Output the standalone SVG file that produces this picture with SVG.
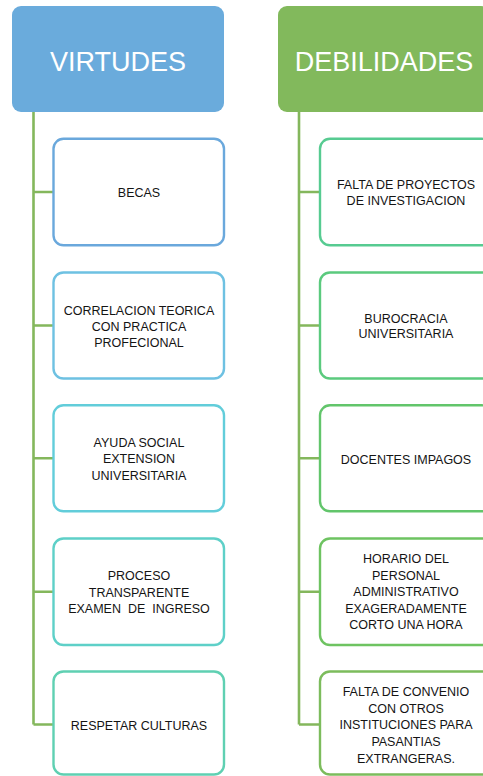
<svg xmlns="http://www.w3.org/2000/svg" width="483" height="776" viewBox="0 0 483 776">
<style>
.hdr{font-family:"Liberation Sans",Arial,sans-serif;font-size:27px;fill:#ffffff;text-anchor:middle}
.t{font-family:"Liberation Sans",Arial,sans-serif;font-size:12.5px;fill:#141414;text-anchor:middle;white-space:pre}
.box{fill:#ffffff;stroke-width:2.4}
.con{stroke:#84b75c;stroke-width:2.6;fill:none}
</style>
<rect width="483" height="776" fill="#ffffff"/>
<g id="connectors">
<path class="con" d="M33.5,112 V724.5 M33.5,192 H53.5 M33.5,325.5 H53.5 M33.5,458.3 H53.5 M33.5,591.7 H53.5 M33.5,724.5 H53.5"/>
<path class="con" d="M299,112 V724.5 M299,192 H320 M299,325.5 H320 M299,458.3 H320 M299,591.7 H320 M299,724.5 H320"/>
</g>
<g id="virtudes">
<rect x="12" y="6" width="212" height="106" rx="9" fill="#6aabdc"/>
<text class="hdr" x="118" y="71">VIRTUDES</text>
</g>
<g id="debilidades">
<rect x="278" y="6" width="212" height="106" rx="9" fill="#82b95c"/>
<text class="hdr" x="384" y="71">DEBILIDADES</text>
</g>
<g id="becas">
<rect class="box" x="53.5" y="138.8" width="170.5" height="106.5" rx="10" stroke="#6aa8dc"/>
<text class="t" x="139" y="197">BECAS</text>
</g>
<g id="correlacion">
<rect class="box" x="53.5" y="272.5" width="170.5" height="106" rx="10" stroke="#6ec1e2"/>
<text class="t" x="139" y="314.5">CORRELACION TEORICA</text>
<text class="t" x="139" y="330.5">CON PRACTICA</text>
<text class="t" x="139" y="346.5">PROFECIONAL</text>
</g>
<g id="ayuda">
<rect class="box" x="53.5" y="405.3" width="170.5" height="106" rx="10" stroke="#62cdda"/>
<text class="t" x="139" y="446.5">AYUDA SOCIAL</text>
<text class="t" x="139" y="463">EXTENSION</text>
<text class="t" x="139" y="479.5">UNIVERSITARIA</text>
</g>
<g id="proceso">
<rect class="box" x="53.5" y="538.5" width="170.5" height="106.5" rx="10" stroke="#5ed0c8"/>
<text class="t" x="139" y="580">PROCESO</text>
<text class="t" x="139" y="596.5">TRANSPARENTE</text>
<text class="t" x="139" y="613" xml:space="preserve">EXAMEN  DE  INGRESO</text>
</g>
<g id="respetar">
<rect class="box" x="53.5" y="671.5" width="170.5" height="103" rx="10" stroke="#5fd0b2"/>
<text class="t" x="139" y="730">RESPETAR CULTURAS</text>
</g>
<g id="falta-proyectos">
<rect class="box" x="320" y="138.8" width="172" height="106.5" rx="10" stroke="#57cb91"/>
<text class="t" x="406" y="189.3">FALTA DE PROYECTOS</text>
<text class="t" x="406" y="205">DE INVESTIGACION</text>
</g>
<g id="burocracia">
<rect class="box" x="320" y="272.5" width="172" height="106" rx="10" stroke="#5bca7e"/>
<text class="t" x="406" y="322.7">BUROCRACIA</text>
<text class="t" x="406" y="338.3">UNIVERSITARIA</text>
</g>
<g id="docentes">
<rect class="box" x="320" y="405.3" width="172" height="106" rx="10" stroke="#62c56b"/>
<text class="t" x="406" y="463.5">DOCENTES IMPAGOS</text>
</g>
<g id="horario">
<rect class="box" x="320" y="538.5" width="172" height="106.5" rx="10" stroke="#6ec361"/>
<text class="t" x="406" y="563">HORARIO DEL</text>
<text class="t" x="406" y="579.6">PERSONAL</text>
<text class="t" x="406" y="596.2">ADMINISTRATIVO</text>
<text class="t" x="406" y="612.8">EXAGERADAMENTE</text>
<text class="t" x="406" y="629.4">CORTO UNA HORA</text>
</g>
<g id="falta-convenio">
<rect class="box" x="320" y="671.5" width="172" height="103" rx="10" stroke="#7cbc5c"/>
<text class="t" x="406" y="696">FALTA DE CONVENIO</text>
<text class="t" x="406" y="712.7">CON OTROS</text>
<text class="t" x="406" y="729.4">INSTITUCIONES PARA</text>
<text class="t" x="406" y="746.1">PASANTIAS</text>
<text class="t" x="406" y="762.8">EXTRANGERAS.</text>
</g>
</svg>
